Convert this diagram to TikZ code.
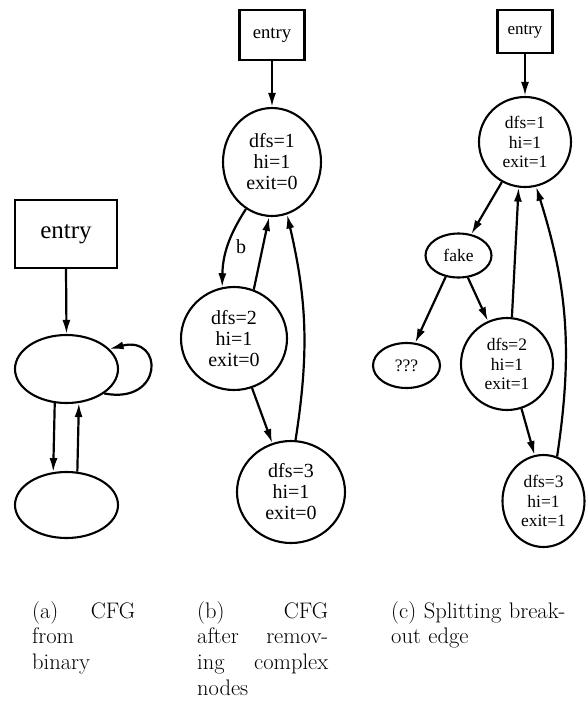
\documentclass[tikz,border=0pt]{standalone}
\usepackage{fontspec}
\newfontfamily\tms{Liberation Serif}
\usetikzlibrary{arrows.meta,shapes.geometric}
\begin{document}
\begin{tikzpicture}[x=1pt,y=-1pt,
  edge/.style={line width=2.2pt,-{Latex[length=14pt,width=8pt]}},
  boxnode/.style={draw,line width=2.1pt,rectangle,inner sep=0pt},
  ell/.style={draw,line width=2.1pt,ellipse,inner sep=0pt,align=center},
  tb/.style={font=\tms\fontsize{20}{21}\selectfont},
  tc/.style={font=\tms\fontsize{17.5}{19.5}\selectfont},
  captext/.style={font=\fontsize{22.5}{25.7}\selectfont,align=left,inner sep=0pt,anchor=base west}]
\useasboundingbox (0,0) rectangle (586,705);
% panel (a)
\node[boxnode,minimum width=102,minimum height=68,font=\tms\fontsize{25}{28}\selectfont] (ea) at (66,234) {entry};
\node[ell,minimum width=103,minimum height=68] (a1) at (66.5,369) {};
\node[ell,minimum width=103,minimum height=66] (a2) at (66.5,505) {};
\draw[edge] (ea.south) -- (a1.north);
\draw[edge] (a1.251) -- (a2.112);
\draw[edge] (a2.72) -- (a1.290);
\draw[edge] (a1.327) .. controls (164,405) and (164,335) .. (a1.25);
% panel (b)
\node[boxnode,minimum width=65,minimum height=50,font=\tms\fontsize{18.7}{21}\selectfont] (eb) at (272,35) {entry};
\node[ell,tb,minimum width=98,minimum height=108] (b1) at (272,162) {dfs=1\\hi=1\\exit=0};
\node[ell,tb,minimum width=106,minimum height=103] (b2) at (234,338.5) {dfs=2\\hi=1\\exit=0};
\node[ell,tb,minimum width=108,minimum height=102] (b3) at (291,492) {dfs=3\\hi=1\\exit=0};
\draw[edge] (eb.south) -- (b1.north);
\draw[edge] (b1.241) to[bend right=16] node[tb,pos=0.5,right=4pt] (lb) {b} (b2.103);
\draw[edge] (b2.68) -- (b1.267);
\draw[edge] (b2.290) -- (b3.111);
\draw[edge] (b3.85) to[bend right=11] (b1.286);
% panel (c)
\node[boxnode,minimum width=55,minimum height=43,font=\tms\fontsize{17}{19}\selectfont] (ec) at (525,31.5) {entry};
\node[ell,tc,minimum width=92,minimum height=90] (c1) at (525,142) {dfs=1\\hi=1\\exit=1};
\node[ell,tc,minimum width=66,minimum height=44] (fk) at (458.5,255.5) {fake};
\node[ell,tc,minimum width=67,minimum height=45] (qq) at (406.5,365.5) {???};
\node[ell,tc,minimum width=92,minimum height=92] (c2) at (507,364) {dfs=2\\hi=1\\exit=1};
\node[ell,tc,minimum width=82,minimum height=92] (c3) at (543.5,501) {dfs=3\\hi=1\\exit=1};
\draw[edge] (ec.south) -- (c1.north);
\draw[edge] (c1.240) -- (fk.59);
\draw[edge] (fk.239) -- (qq.69);
\draw[edge] (fk.293) -- (c2.114);
\draw[edge] (c2.84) -- (c1.262);
\draw[edge] (c2.288) -- (c3.101);
\draw[edge] (c3.73) to[bend right=13] (c1.284);
% captions
\node[captext,text width=103] (capa) at (32,618) {(a)\hfill CFG\\from\\binary};
\node[captext,text width=131] (capb) at (197,618) {(b)\hfill CFG\\after\hfill remov-\\ing\hfill complex\\nodes};
\node[captext,text width=195] (capc) at (391,618) {(c) Splitting break-\\out edge};
\end{tikzpicture}
\end{document}
